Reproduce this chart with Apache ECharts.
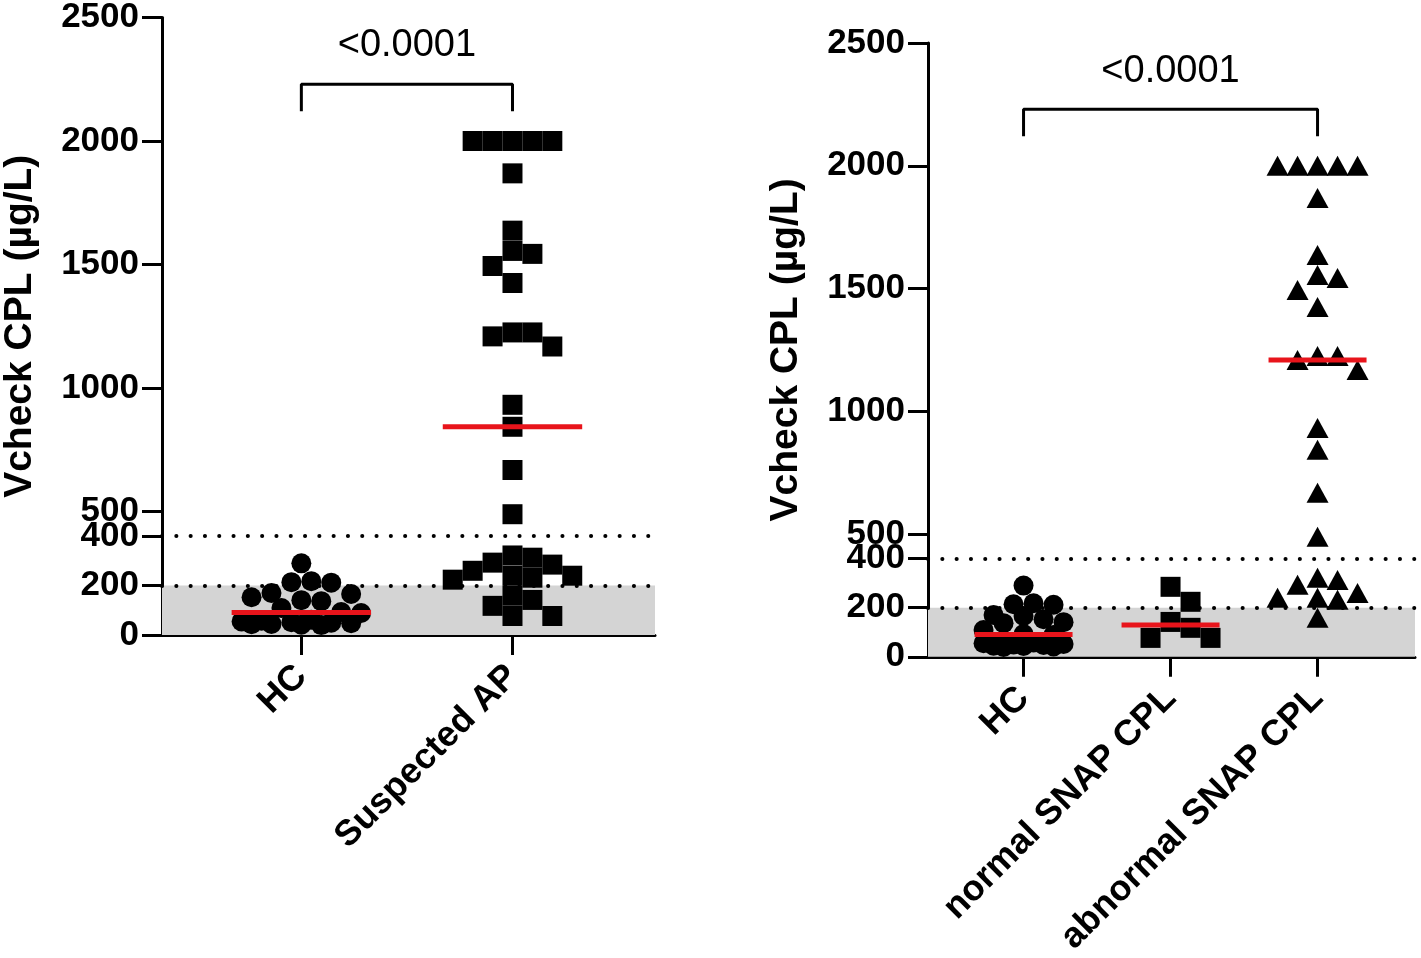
<!DOCTYPE html>
<html lang="en">
<head>
    <meta charset="UTF-8">
    <title>Vcheck CPL</title>
    <script type="text/javascript" src="https://cdn.jsdelivr.net/npm/echarts@6.0.0/dist/echarts.min.js"></script>
    <style>
        body { margin: 0; background: #fff; }
    </style>
</head>
<body>
    <div id="main" style="width: 1421px; height: 958px"></div>
    <script>
        // values (µg/L)
        var hcValues = [290, 218, 214, 212, 170, 166, 153, 141, 137, 109, 93, 89, 62, 58, 55, 52, 50, 48, 45, 44, 42, 40];
        var normalSnap = [285, 224, 142, 118, 77, 77];
        var abnormalSnap = [2000, 2000, 2000, 2000, 2000, 1869, 1637, 1555, 1543, 1494, 1425, 1225, 1225, 1209, 1168,
            932, 843, 668, 489, 322, 313, 293, 260, 240, 240, 232, 159];
        var suspectedAP = normalSnap.concat(abnormalSnap);

        var leftCategories = ['HC', 'Suspected AP'];
        var rightCategories = ['HC', 'normal SNAP CPL', 'abnormal SNAP CPL'];
        var yTicks = [0, 200, 400, 500, 1000, 1500, 2000, 2500];
        var refLines = [200, 400];
        var pLabel = '<0.0001';
        var bracketTop = 2230, bracketLeg = 2120, pLabelAt = 2385;

        var FONT = 'Liberation Sans, Arial, Helvetica, sans-serif';
        var grids = [
            {left: 160, top: 15, width: 495, height: 620},
            {left: 928, top: 43, width: 487, height: 614}
        ];
        // x range of each panel, in group units (groups sit at 0, 1, 2 ...)
        var xRanges = [[-0.66, 1.675], [-0.65, 2.663]];

        function median(arr) {
            var s = arr.slice().sort(function (a, b) { return a - b; });
            var m = Math.floor(s.length / 2);
            return s.length % 2 ? s[m] : (s[m - 1] + s[m]) / 2;
        }

        // simple beeswarm: push points sideways until they stop overlapping
        function swarm(values, idx, pxX, pxY, size, maxHalf, round) {
            var step = size / 2;
            var placed = [], out = [];
            values.slice().sort(function (a, b) { return b - a; }).forEach(function (v) {
                var y = v * pxY, best = 0, bestD = -1;
                for (var k = 0; ; k++) {
                    var off = (k % 2 ? 1 : -1) * Math.ceil(k / 2) * step;
                    if (Math.abs(off) > maxHalf) break;
                    var d = Infinity;
                    placed.forEach(function (p) {
                        var dx = Math.abs(p.x - off), dy = Math.abs(p.y - y);
                        d = Math.min(d, round ? Math.sqrt(dx * dx + dy * dy) : Math.max(dx, dy));
                    });
                    if (d >= size * 0.98) { best = off; break; }
                    if (d > bestD) { bestD = d; best = off; }
                }
                placed.push({x: best, y: y});
                out.push([idx + best / pxX, v]);
            });
            return out;
        }

        function panelSeries(gi, groups, maxHalf) {
            var g = grids[gi], r = xRanges[gi];
            var pxX = g.width / (r[1] - r[0]), pxY = g.height / 2500;
            var list = [];
            groups.forEach(function (grp, i) {
                list.push({
                    type: 'scatter',
                    xAxisIndex: gi,
                    yAxisIndex: gi,
                    symbol: grp.symbol,
                    symbolSize: grp.size,
                    itemStyle: {color: '#000', opacity: 1},
                    data: swarm(grp.values, i, pxX, pxY, 20, maxHalf, grp.symbol === 'circle'),
                    z: 3
                });
                var med = median(grp.values);
                var hw = (maxHalf + 9) / pxX;
                list.push({
                    type: 'line',
                    xAxisIndex: gi,
                    yAxisIndex: gi,
                    symbol: 'none',
                    lineStyle: {color: '#e8141b', width: 5},
                    data: [[i - hw, med], [i + hw, med]],
                    z: 5
                });
            });
            // reference band and dotted lines
            list[0].markArea = {
                silent: true,
                itemStyle: {color: '#d4d4d4'},
                data: [[{yAxis: 0}, {yAxis: refLines[0]}]]
            };
            list[0].markLine = {
                silent: true,
                symbol: 'none',
                label: {show: false},
                lineStyle: {color: '#000', width: 4, type: [0.1, 14.2], cap: 'round'},
                data: refLines.map(function (v) { return {yAxis: v}; })
            };
            // significance bracket between first and last group
            var a = 0, b = groups.length - 1;
            list.push({
                type: 'line',
                xAxisIndex: gi,
                yAxisIndex: gi,
                symbol: 'none',
                lineStyle: {color: '#000', width: 3},
                data: [[a, bracketLeg], [a, bracketTop], [b, bracketTop], [b, bracketLeg]],
                z: 4
            });
            list.push({
                type: 'scatter',
                xAxisIndex: gi,
                yAxisIndex: gi,
                symbolSize: 0,
                itemStyle: {opacity: 1},
                label: {
                    show: true, position: 'inside', formatter: pLabel,
                    color: '#000', fontSize: 38, fontFamily: FONT, textBorderWidth: 0
                },
                data: [[(a + b) / 2, pLabelAt]]
            });
            return list;
        }

        function xAxis(gi, cats) {
            var idx = cats.map(function (c, i) { return i; });
            return {
                type: 'value',
                gridIndex: gi,
                min: xRanges[gi][0],
                max: xRanges[gi][1],
                axisLine: {onZero: false, lineStyle: {color: '#000', width: 3}},
                axisTick: {show: true, customValues: idx, length: 20, lineStyle: {color: '#000', width: 3}},
                axisLabel: {
                    customValues: idx, rotate: 45, margin: 36, color: '#000',
                    fontSize: 36, fontWeight: 'bold', fontFamily: FONT,
                    formatter: function (v) { return cats[Math.round(v)]; }
                },
                splitLine: {show: false}
            };
        }
        function yAxis(gi) {
            return {
                type: 'value',
                gridIndex: gi,
                min: 0,
                max: 2500,
                name: 'Vcheck CPL (µg/L)',
                nameLocation: 'middle',
                nameGap: 122,
                nameTextStyle: {color: '#000', fontSize: 39, fontWeight: 'bold', fontFamily: FONT},
                axisLine: {show: true, onZero: false, lineStyle: {color: '#000', width: 3}},
                axisTick: {show: true, customValues: yTicks, length: 20, lineStyle: {color: '#000', width: 3}},
                axisLabel: {
                    customValues: yTicks, margin: 23, color: '#000',
                    fontSize: 35, fontWeight: 'bold', fontFamily: FONT,
                    formatter: function (v) { return String(v); }
                },
                splitLine: {show: false}
            };
        }

        var myChart = echarts.init(document.getElementById('main'));
        myChart.setOption({
            animation: false,
            backgroundColor: '#fff',
            grid: grids,
            xAxis: [xAxis(0, leftCategories), xAxis(1, rightCategories)],
            yAxis: [yAxis(0), yAxis(1)],
            series: panelSeries(0, [
                {values: hcValues, symbol: 'circle', size: 20},
                {values: suspectedAP, symbol: 'rect', size: 20}
            ], 61).concat(panelSeries(1, [
                {values: hcValues, symbol: 'circle', size: 20},
                {values: normalSnap, symbol: 'rect', size: 20},
                {values: abnormalSnap, symbol: 'triangle', size: [22, 20]}
            ], 40))
        });
    </script>
</body>
</html>
